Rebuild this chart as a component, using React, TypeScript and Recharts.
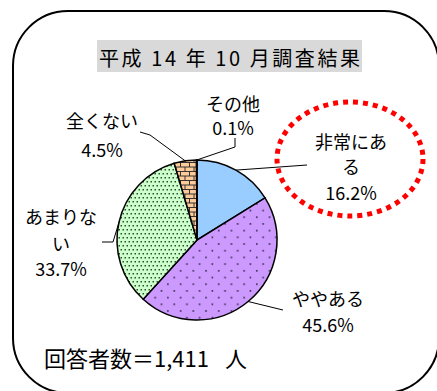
import React from "react";
import { PieChart, Pie, Cell } from "recharts";

const categories = ["非常にある", "ややある", "あまりない", "全くない", "その他"];
const values = [16.2, 45.6, 33.7, 4.5, 0.1];
const sliceFills = ["#99CCFF", "url(#pPurple)", "url(#pGreen)", "url(#pBrick)", "#FFFFFF"];

const titleText = "平成 14 年 10 月調査結果";
const footnoteMain = "回答者数＝1,411";
const footnoteUnit = "人";

const data = categories.map((name, i) => ({ name, value: values[i] }));

// label placement relative to the pie centre
const labelLayout = [
  { dx: 154, dy: [-99, -74, -48], wrap: 4, leader: [[110, -75]] },
  { dx: 131, dy: [58, 84], wrap: 0, leader: [[86, 70]] },
  { dx: -136, dy: [-24, 3, 28], wrap: 4, leader: [[-84, 2], [-95, 2]] },
  { dx: -95, dy: [-120, -91], wrap: 0, leader: [[-47, -105], [-57, -108]] },
  { dx: 36, dy: [-137, -113], wrap: 0, leader: [[38, -93], [38, -102]] },
];

const W = 437;
const H = 391;
const CX = 197;
const CY = 240;
const R = 80;
const FONT = '"Noto Sans CJK JP", "Noto Sans", sans-serif';

function renderLabel(props: any) {
  const { cx, cy, midAngle, outerRadius, index, name, value } = props;
  const lay = labelLayout[index];
  if (!lay) return null;
  const RAD = Math.PI / 180;
  const sx = cx + outerRadius * Math.cos(-midAngle * RAD);
  const sy = cy + outerRadius * Math.sin(-midAngle * RAD);
  const pts = [[sx, sy], ...lay.leader.map(([x, y]) => [cx + x, cy + y])];
  const nm = String(name);
  const nameLines = lay.wrap && nm.length > lay.wrap ? [nm.slice(0, lay.wrap), nm.slice(lay.wrap)] : [nm];
  const lines = [...nameLines, `${Number(value).toFixed(1)}%`];
  return (
    <g key={`lbl-${index}`}>
      <polyline
        points={pts.map((p) => p.join(",")).join(" ")}
        fill="none"
        stroke="#000"
        strokeWidth={1}
      />
      {lines.map((t, i) => (
        <text
          key={i}
          x={cx + lay.dx}
          y={cy + lay.dy[i]}
          textAnchor="middle"
          dominantBaseline="central"
          fontSize={18}
          fontFamily={FONT}
          fill="#000"
        >
          {t}
        </text>
      ))}
    </g>
  );
}

export default function App() {
  return (
    <div style={{ position: "absolute", left: 0, top: 0, width: W, height: H, background: "#fff" }}>
      <svg width={W} height={H} style={{ position: "absolute", left: 0, top: 0 }}>
        <defs>
          <pattern id="pPurple" width={12.7} height={13.4} patternUnits="userSpaceOnUse">
            <rect width={12.7} height={13.4} fill="#CC99FF" />
            <rect x={2} y={2} width={1.6} height={1.6} fill="#3a2a4a" />
            <rect x={8.35} y={8.7} width={1.6} height={1.6} fill="#3a2a4a" />
          </pattern>
          <pattern id="pGreen" width={4} height={8} patternUnits="userSpaceOnUse">
            <rect width={4} height={8} fill="#CCFFCC" />
            <rect x={0.5} y={1} width={1.5} height={1.5} fill="#2f4f2f" />
            <rect x={2.5} y={5} width={1.5} height={1.5} fill="#2f4f2f" />
          </pattern>
          <pattern id="pBrick" width={9} height={9} patternUnits="userSpaceOnUse">
            <rect width={9} height={9} fill="#FFCC99" />
            <line x1={0} y1={0.5} x2={9} y2={0.5} stroke="#333" strokeWidth={1} />
            <line x1={0} y1={5} x2={9} y2={5} stroke="#333" strokeWidth={1} />
            <line x1={0.5} y1={0} x2={0.5} y2={5} stroke="#333" strokeWidth={1} />
            <line x1={5} y1={5} x2={5} y2={9} stroke="#333" strokeWidth={1} />
          </pattern>
        </defs>
        <rect x={13} y={11} width={426} height={382} rx={55} ry={55} fill="#fff" stroke="#000" strokeWidth={2} />
        <rect x={97} y={40} width={265} height={32} fill="#D9D9D9" />
        <text
          x={99}
          y={57}
          dominantBaseline="central"
          fontSize={20}
          fontFamily={FONT}
          fill="#000"
          textLength={261}
          lengthAdjust="spacing"
        >
          {titleText}
        </text>
        <text x={44} y={357} dominantBaseline="central" fontSize={22} fontFamily={FONT} fill="#000">
          {footnoteMain}
        </text>
        <text x={247} y={357} textAnchor="end" dominantBaseline="central" fontSize={22} fontFamily={FONT} fill="#000">
          {footnoteUnit}
        </text>
      </svg>
      <div style={{ position: "absolute", left: 0, top: 0 }}>
        <PieChart width={W} height={H} margin={{ top: 0, right: 0, bottom: 0, left: 0 }}>
          <Pie
            data={data}
            dataKey="value"
            nameKey="name"
            cx={CX}
            cy={CY}
            outerRadius={R}
            startAngle={90}
            endAngle={-270}
            stroke="#000"
            strokeWidth={1.5}
            isAnimationActive={false}
            labelLine={false}
            label={renderLabel}
          >
            {data.map((d, i) => (
              <Cell key={d.name} fill={sliceFills[i]} stroke="#000" strokeWidth={1.5} />
            ))}
          </Pie>
        </PieChart>
      </div>
      <svg width={W} height={H} style={{ position: "absolute", left: 0, top: 0, pointerEvents: "none" }}>
        <ellipse
          cx={350}
          cy={159}
          rx={73}
          ry={57}
          fill="none"
          stroke="#FF0000"
          strokeWidth={5}
          strokeDasharray="5 5"
        />
      </svg>
    </div>
  );
}
